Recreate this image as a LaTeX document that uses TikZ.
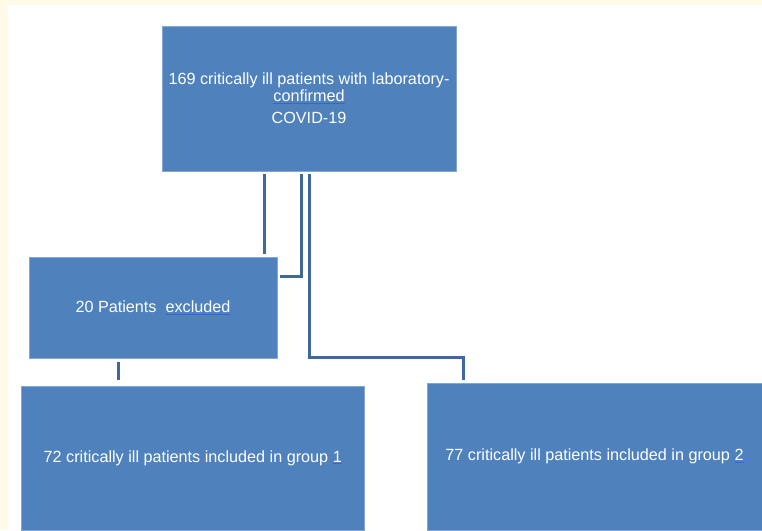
\documentclass[tikz,border=0pt]{standalone}
\usepackage{fontspec}
\setmainfont{Liberation Sans}
\usepackage{tikz}
\usetikzlibrary{positioning, calc}

\definecolor{boxblue}{RGB}{79,129,189}
\definecolor{linkblue}{RGB}{65,104,156}
\definecolor{spellblue}{RGB}{60,100,205}
\definecolor{cream}{RGB}{255,251,232}

\newcommand{\spell}[1]{\textcolor{spellblue}{\underline{\textcolor{white}{#1}}}}

\begin{document}
\begin{tikzpicture}[x=1pt,y=-1pt,
        every node/.style={font=\fontsize{16.2}{18}\selectfont},
        flowbox/.style={fill=boxblue,draw=boxblue!70!white,line width=0.6pt,text=white,
            align=center,inner sep=0pt,outer sep=0pt},
        link/.style={draw=linkblue,line width=3pt}]

        % background and frame strips
        \useasboundingbox (0,0) rectangle (762,530);
        \fill[white] (0,0) rectangle (762,530);
        \fill[cream] (0,0) rectangle (762,5);
        \fill[cream] (0,0) rectangle (8,530);

        \node[flowbox,minimum width=294pt,minimum height=145pt] (top) at (309,98.5)
            {169 critically ill patients with laboratory-\\[-1pt]\spell{confirmed}\\[4pt]COVID-19};
        \node[flowbox,minimum width=248pt,minimum height=101pt] (excl) at (153,307.5)
            {20 Patients\ \ \spell{excluded}};
        \node[flowbox,minimum width=342.5pt,minimum height=144pt] (grp_1) at (192.75,458)
            {\raisebox{-3pt}{72 critically ill patients included in group \spell{1}}};
        \node[flowbox,minimum width=335pt,minimum height=147pt] (grp_2) at (594.5,456.5)
            {\raisebox{-3pt}{77 critically ill patients included in group \spell{2}}};

        \draw[link] ([xshift=-45pt,yshift=-3pt]top.south) coordinate (a_top)
            -- ([yshift=3pt]a_top |- excl.north);
        \draw[link] ([xshift=-8pt,yshift=-3pt]top.south)
            |- ([xshift=3pt,yshift=-19pt]excl.north east);
        \draw[link] ([yshift=-3pt]top.south)
            |- ([xshift=36pt,yshift=26pt]grp_2.north west)
            -- ([xshift=36pt,yshift=3pt]grp_2.north west);
        \draw[link] ([xshift=-35pt,yshift=-4pt]excl.south) coordinate (d_top)
            -- ([yshift=6pt]d_top |- grp_1.north);
\end{tikzpicture}
\end{document}
